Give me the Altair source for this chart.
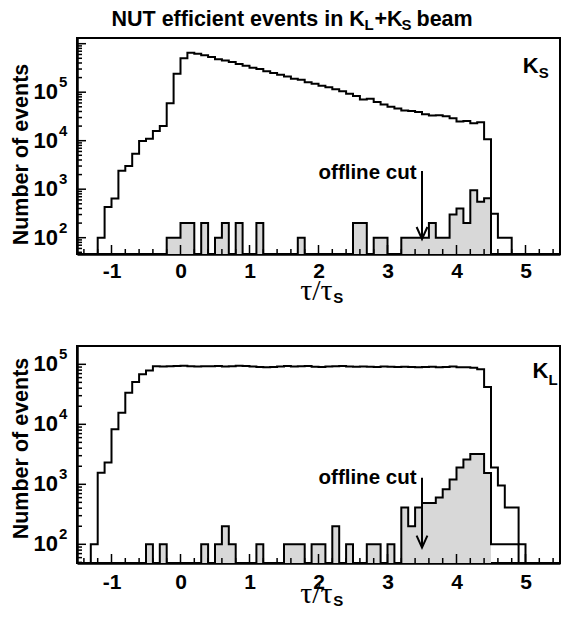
import altair as alt
import pandas as pd

# ---------------- data ----------------
bin_start = [round(-1.5 + 0.1 * i, 1) for i in range(71)]
BIN_END = 5.6

ks_white = [0, 0, 0, 100, 430, 640, 2400, 3000, 5400, 9800, 11000, 15800, 20000, 59000, 240000,
            500000, 650000, 620000, 580000, 530000, 480000, 450000, 420000, 380000, 350000, 320000,
            300000, 270000, 250000, 230000, 210000, 190000, 180000, 160000, 150000, 135000,
            126000, 115000, 105000, 93000, 83000, 71000, 73000, 63000, 56000, 50000, 46000,
            42000, 41000, 39000, 35000, 33000, 33500, 32000, 29000, 25000, 25500, 23000, 24000,
            10700, 310, 100, 100, 0, 0, 0, 0, 0, 0, 0, 100]

ks_gray_start = [-0.2, -0.1, 0.0, 0.1, 0.3, 0.5, 0.6, 0.8, 1.1, 1.7, 2.5, 2.6, 2.8, 2.9, 3.2, 3.3,
                 3.4, 3.5, 3.6, 3.7, 3.8, 3.9, 4.0, 4.1, 4.2, 4.3, 4.4]
ks_gray_count = [100, 100, 200, 200, 200, 100, 200, 200, 200, 100, 200, 200, 100, 100, 100, 100,
                 100, 100, 200, 100, 100, 300, 400, 200, 950, 550, 650]

kl_white = [0, 0, 100, 1560, 2300, 8300, 15600, 33600, 50600, 68000, 79000, 93000,
            92000, 93000, 94000, 95000, 93000, 92000, 93000, 93000, 94000, 92000, 93000, 95000, 94000,
            92000, 90000, 89000, 90000, 92000, 94000, 92000, 93000, 94000, 91000,
            90000, 92000, 93000, 94000, 92000, 91000, 92000, 91000, 90000, 92000,
            91000, 90000, 91000, 90000, 89000, 90000, 91000, 89000, 90000, 92000,
            89000, 89000, 88000,
            83000, 42000, 1900, 960, 410, 410, 100, 0, 0, 0, 0, 0, 0]

kl_gray_start = [-0.5, -0.3, 0.3, 0.5, 0.6, 0.7, 1.1, 1.5, 1.6, 1.7, 1.9, 2.0, 2.2, 2.4, 2.7, 2.8,
                 3.0, 3.2, 3.3, 3.4, 3.5, 3.6, 3.7, 3.8, 3.9, 4.0, 4.1, 4.2, 4.3, 4.4, 4.5, 4.6,
                 4.7, 4.8]
kl_gray_count = [100, 100, 100, 100, 200, 100, 100, 100, 100, 100, 100, 100, 200, 100, 100, 100,
                 100, 410, 200, 410, 490, 490, 600, 830, 1200, 1900, 2600, 3200, 3200, 1550, 100, 100,
                 100, 100]

x_tick_labels = [-1, 0, 1, 2, 3, 4, 5]
y_label_values = [100, 1000, 10000, 100000]
y_label_exps = ["2", "3", "4", "5"]

# ---------------- helpers ----------------
SANS = "Liberation Sans"
SERIF = "Liberation Serif"
XDOM = [-1.5, 5.5]
W = 483
xscale = alt.Scale(domain=XDOM, nice=False, zero=False)


def make_xaxis(pad):
    return alt.Axis(values=x_tick_labels,
                    labelExpr="datum.value < 0 ? '-' + abs(datum.value) : '' + datum.value",
                    labelFont=SANS, labelFontWeight="bold", labelFontSize=21, labelColor="black",
                    labelPadding=pad, labelFlush=False, ticks=False, grid=False,
                    domainColor="black", domainWidth=2.5)


def full_counts(starts, counts):
    m = {round(s, 1): c for s, c in zip(starts, counts)}
    return [m.get(b, 0) for b in bin_start]


def hist_df(counts, floor, fill_end=None):
    xs = bin_start + [BIN_END]
    ys = []
    for b, c in zip(bin_start, counts):
        if c <= 0 or (fill_end is not None and b >= fill_end - 1e-9):
            ys.append(floor)
        else:
            ys.append(c)
    ys = ys + [ys[-1]]
    return pd.DataFrame({"x": xs, "y": ys, "base": [floor] * len(xs)})


def panel(white, g_start, g_count, ydom, title_y, lab_pad, xt_dy, fill_end=None):
    floor = ydom[0]
    yscale = alt.Scale(type="log", domain=ydom, nice=False)
    xaxis = make_xaxis(lab_pad)
    yaxis = alt.Axis(labels=False, ticks=False, grid=False, values=y_label_values,
                     domainColor="black", domainWidth=2.5,
                     titleX=-56, titleY=title_y, titleAngle=270, titleAlign="center",
                     titleBaseline="middle", titleFont=SANS, titleFontWeight="bold",
                     titleFontSize=21.5, titleColor="black")

    def enc(ch, yf="y"):
        return ch.encode(
            x=alt.X("x:Q", scale=xscale, axis=xaxis, title=None),
            y=alt.Y(f"{yf}:Q", scale=yscale, axis=yaxis, title="Number of events"),
        )

    layers = []
    gfull = full_counts(g_start, g_count)
    adf = hist_df(gfull, floor, fill_end)
    layers.append(enc(alt.Chart(adf).mark_area(interpolate="step-after", color="#d8d8d8",
                                                opacity=1, clip=True))
                  .encode(y2=alt.Y2("base:Q")))
    gdf = hist_df(gfull, floor)
    layers.append(enc(alt.Chart(gdf).mark_line(interpolate="step-after", color="black",
                                                strokeWidth=2, clip=True)))
    wdf = hist_df(white, floor)
    layers.append(enc(alt.Chart(wdf).mark_line(interpolate="step-after", color="black",
                                                strokeWidth=2, clip=True)))

    # inward ticks
    maj = [10 ** e for e in range(1, 7) if floor <= 10 ** e <= ydom[1]]
    mnr = [k * 10 ** e for e in range(1, 7) for k in range(2, 10)
           if floor <= k * 10 ** e <= ydom[1]]
    for vals, ln in ((maj, 9), (mnr, 5)):
        d = pd.DataFrame({"x": [XDOM[0]] * len(vals), "y": vals})
        layers.append(enc(alt.Chart(d).mark_tick(orient="horizontal", size=ln, thickness=1.5,
                                                 xOffset=ln / 2, color="black", opacity=1)))
    xmaj = x_tick_labels
    xmin = [round(-1.4 + 0.2 * i, 1) for i in range(35)]
    xmin = [v for v in xmin if abs(v - round(v)) > 1e-6 and v < XDOM[1]]
    for vals, ln in ((xmaj, 9), (xmin, 5)):
        d = pd.DataFrame({"x": vals, "y": [floor] * len(vals)})
        layers.append(enc(alt.Chart(d).mark_tick(orient="vertical", size=ln, thickness=1.5,
                                                 yOffset=-ln / 2, color="black", opacity=1)))

    # y labels 10^n
    ld = pd.DataFrame({"x": [XDOM[0]] * 4, "y": y_label_values, "e": y_label_exps})
    layers.append(enc(alt.Chart(ld).mark_text(align="right", baseline="middle", dx=-19, dy=0,
                                              font=SANS, fontWeight="bold", fontSize=22,
                                              color="black")).encode(text=alt.value("10")))
    layers.append(enc(alt.Chart(ld).mark_text(align="left", baseline="middle", dx=-18, dy=-10,
                                              font=SANS, fontWeight="bold", fontSize=15,
                                              color="black")).encode(text="e:N"))

    # x title tau/tau_S
    xt = pd.DataFrame({"x": [1.735], "y": [floor]})
    layers.append(enc(alt.Chart(xt).mark_text(align="left", baseline="alphabetic", dy=xt_dy,
                                              font=SERIF, fontSize=30,
                                              color="black")).encode(text=alt.value("τ/τ")))
    layers.append(enc(alt.Chart(xt).mark_text(align="left", baseline="alphabetic", dx=33,
                                              dy=xt_dy + 3, font=SANS, fontWeight="bold",
                                              fontSize=15, color="black"))
                  .encode(text=alt.value("S")))
    return layers, enc


def cut_layers(enc, x_arrow, y_top, y_tip, x_text, y_text):
    out = []
    d = pd.DataFrame({"x": [x_arrow], "y": [y_top], "y2": [y_tip]})
    out.append(enc(alt.Chart(d).mark_rule(color="black", strokeWidth=2))
               .encode(y2=alt.Y2("y2:Q")))
    out.append(enc(alt.Chart(d).mark_point(shape="M-0.9,-2L0,0L0.9,-2", size=144,
                                           filled=False, color="black",
                                           strokeWidth=2, opacity=1), yf="y2"))
    t = pd.DataFrame({"x": [x_text], "y": [y_text], "t": ["offline cut"]})
    out.append(enc(alt.Chart(t).mark_text(align="right", baseline="alphabetic",
                                          font=SANS, fontWeight="bold", fontSize=20.5,
                                          color="black")).encode(text="t:N"))
    return out


def k_label(enc, x, y, sub, sub_dx, sub_dy):
    d = pd.DataFrame({"x": [x], "y": [y]})
    return [
        enc(alt.Chart(d).mark_text(align="left", baseline="alphabetic", font=SANS,
                                   fontWeight="bold", fontSize=22, color="black"))
        .encode(text=alt.value("K")),
        enc(alt.Chart(d).mark_text(align="left", baseline="alphabetic", dx=sub_dx, dy=sub_dy,
                                   font=SANS, fontWeight="bold", fontSize=15, color="black"))
        .encode(text=alt.value(sub)),
    ]


# ---------- top panel ----------
TOP_DOM = [46.1, 1.31e6]
top_layers, enc_t = panel(ks_white, ks_gray_start, ks_gray_count, TOP_DOM, 116, 6, 46)
top_layers += cut_layers(enc_t, 3.5, 2370, 94, 3.42, 1600)
top_layers += k_label(enc_t, 4.96, 2.49e5, "S", 16, 5)

title_parts = ["NUT efficient events in K", "L", "+K", "S", "beam"]
title_dx = [0, 253, 263, 290, 305]
title_dy = [-12, -8, -12, -8, -12]
title_fs = [21.5, 15, 21.5, 15, 21.5]
tt = pd.DataFrame({"x": [-1.0], "y": [TOP_DOM[1]]})
for txt, dx, dy, fs in zip(title_parts, title_dx, title_dy, title_fs):
    top_layers.append(enc_t(alt.Chart(tt).mark_text(align="left", baseline="alphabetic", dx=dx,
                                                    dy=dy, font=SANS, fontWeight="bold",
                                                    fontSize=fs, color="black"))
                      .encode(text=alt.value(txt)))

top = alt.layer(*top_layers).properties(width=W, height=216)

# ---------- bottom panel ----------
BOT_DOM = [48.8, 2.02e5]
bot_layers, enc_b = panel(kl_white, kl_gray_start, kl_gray_count, BOT_DOM, 102, 8, 40,
                          fill_end=4.5)
bot_layers += cut_layers(enc_b, 3.5, 1290, 88, 3.42, 1000)
bot_layers += k_label(enc_b, 5.1, 5.9e4, "L", 16, 7)

bottom = alt.layer(*bot_layers).properties(width=W, height=217)

chart = (alt.vconcat(top, bottom, spacing=92, bounds="flush")
         .properties(padding={"left": 1, "top": 0, "right": 0, "bottom": 0}, background="white")
         .configure_view(stroke="black", strokeWidth=2))

chart.save("out.html", embed_options={"renderer": "svg", "actions": False})
